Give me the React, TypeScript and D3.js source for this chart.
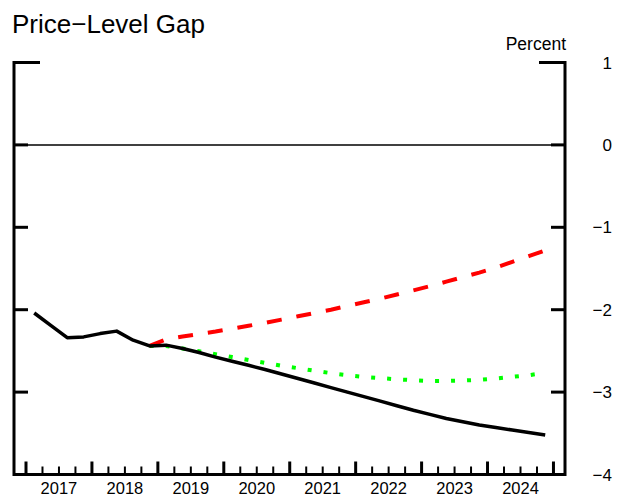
import React from "react";
import * as d3 from "d3";

const quarters: string[] = [
  "2017Q1","2017Q2","2017Q3","2017Q4","2018Q1","2018Q2","2018Q3","2018Q4",
  "2019Q1","2019Q2","2019Q3","2019Q4","2020Q1","2020Q2","2020Q3","2020Q4",
  "2021Q1","2021Q2","2021Q3","2021Q4","2022Q1","2022Q2","2022Q3","2022Q4",
  "2023Q1","2023Q2","2023Q3","2023Q4","2024Q1","2024Q2","2024Q3","2024Q4",
];

// Baseline (black solid), full period
const baseline: number[] = [
  -2.04, -2.19, -2.34, -2.33, -2.29, -2.26, -2.37, -2.44,
  -2.43, -2.47, -2.52, -2.575, -2.625, -2.675, -2.725, -2.78,
  -2.835, -2.89, -2.945, -3.0, -3.055, -3.11, -3.165, -3.22,
  -3.27, -3.32, -3.36, -3.40, -3.43, -3.46, -3.49, -3.52,
];

// Red dashed, starts 2018Q4
const redStart = "2018Q4";
const redSeries: number[] = [
  -2.44, -2.36, -2.325, -2.295, -2.265, -2.23, -2.195, -2.16,
  -2.12, -2.08, -2.04, -2.0, -1.955, -1.91, -1.865, -1.815,
  -1.765, -1.715, -1.66, -1.605, -1.55, -1.49, -1.42, -1.35, -1.28,
];

// Green dotted, starts 2018Q4
const greenStart = "2018Q4";
const greenSeries: number[] = [
  -2.44, -2.44, -2.47, -2.505, -2.54, -2.575, -2.61, -2.645,
  -2.68, -2.71, -2.74, -2.77, -2.795, -2.815, -2.83, -2.845,
  -2.855, -2.865, -2.865, -2.86, -2.85, -2.835, -2.815, -2.795, -2.765,
];

const years: number[] = [2017, 2018, 2019, 2020, 2021, 2022, 2023, 2024];
const yTicks: number[] = [1, 0, -1, -2, -3, -4];
const yTickLabels: string[] = ["1", "0", "\u22121", "\u22122", "\u22123", "\u22124"];

const title = "Price\u2212Level Gap";
const unitLabel = "Percent";

const W = 628;
const H = 497;
const left = 14;
const right = 565;
const top = 62.5;
const bottom = 474.5;

const qTime = (q: string) => {
  const yr = +q.slice(0, 4);
  const qq = +q.slice(5);
  return yr + (qq - 0.5) / 4;
};

export default function App() {
  const x = d3.scaleLinear().domain([2016.818, 2025.175]).range([left, right]);
  const y = d3.scaleLinear().domain([-4, 1]).range([bottom, top]);

  const line = d3
    .line<[number, number]>()
    .x((d) => x(d[0]))
    .y((d) => y(d[1]))
    .curve(d3.curveLinear);

  const basePts: [number, number][] = quarters.map((q, i) => [qTime(q), baseline[i]]);
  const rIdx = quarters.indexOf(redStart);
  const redPts: [number, number][] = redSeries.map((v, i) => [qTime(quarters[rIdx + i]), v]);
  const gIdx = quarters.indexOf(greenStart);
  const greenPts: [number, number][] = greenSeries.map((v, i) => [qTime(quarters[gIdx + i]), v]);

  const quarterTicks: number[] = [];
  years.forEach((yr) => {
    for (let k = 0; k < 4; k++) quarterTicks.push(yr + k / 4);
  });
  quarterTicks.push(years[years.length - 1] + 1);

  const font = "Liberation Sans, Arial, Helvetica, sans-serif";

  return (
    <svg
      width={W}
      height={H}
      style={{ position: "absolute", left: 0, top: 0, background: "#fff" }}
      fontFamily={font}
    >
      <text x={12} y={33} fontSize={26} fill="#000">
        {title}
      </text>
      <text x={566} y={50} fontSize={17.5} textAnchor="end" fill="#000">
        {unitLabel}
      </text>

      {/* zero line */}
      <line x1={left} x2={right} y1={y(0)} y2={y(0)} stroke="#000" strokeWidth={1.5} />

      {/* series */}
      <path d={line(greenPts) || ""} fill="none" stroke="#00ff00" strokeWidth={4} strokeDasharray="4 12" />
      <path d={line(redPts) || ""} fill="none" stroke="#ff0000" strokeWidth={4} strokeDasharray="15 15" />
      <path d={line(basePts) || ""} fill="none" stroke="#000" strokeWidth={3.5} strokeLinejoin="round" />

      {/* frame */}
      <line x1={left} x2={left} y1={top - 1.5} y2={bottom + 1.5} stroke="#000" strokeWidth={3} />
      <line x1={right} x2={right} y1={top - 1.5} y2={bottom + 1.5} stroke="#000" strokeWidth={3} />
      <line x1={left} x2={right} y1={bottom} y2={bottom} stroke="#000" strokeWidth={3} />

      {/* y ticks */}
      {yTicks.map((t, i) => {
        if (t === -4) return null;
        const len = t === 1 ? 26 : 14;
        return (
          <g key={"yt" + i}>
            <line x1={left} x2={left + len} y1={y(t)} y2={y(t)} stroke="#000" strokeWidth={3} />
            <line x1={right - len} x2={right} y1={y(t)} y2={y(t)} stroke="#000" strokeWidth={3} />
          </g>
        );
      })}
      {yTicks.map((t, i) => (
        <text
          key={"yl" + i}
          x={612}
          y={y(t) + 6}
          fontSize={17}
          textAnchor="end"
          fill="#000"
        >
          {yTickLabels[i]}
        </text>
      ))}

      {/* x ticks */}
      {quarterTicks.map((t, i) => {
        const major = i % 4 === 0;
        return (
          <line
            key={"xt" + i}
            x1={x(t)}
            x2={x(t)}
            y1={bottom}
            y2={bottom - (major ? 13 : 8)}
            stroke="#000"
            strokeWidth={major ? 3 : 2}
          />
        );
      })}
      {years.map((yr) => (
        <text key={"xl" + yr} x={x(yr + 0.5)} y={494} fontSize={16.5} textAnchor="middle" fill="#000">
          {String(yr)}
        </text>
      ))}
    </svg>
  );
}
